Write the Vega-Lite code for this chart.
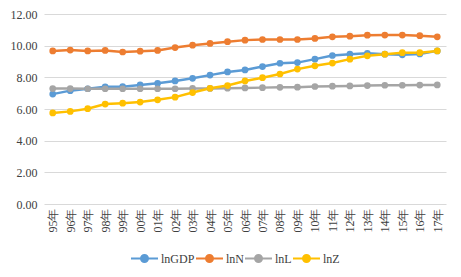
{
  "$schema": "https://vega.github.io/schema/vega-lite/v6.json",
  "width": 402,
  "height": 190,
  "autosize": {"type": "none"},
  "padding": {"left": 44, "top": 14, "right": 15, "bottom": 73},
  "background": "white",
  "config": {
    "font": "Times New Roman, Liberation Serif, serif",
    "view": {"stroke": null},
    "axis": {"labelFont": "Times New Roman, Liberation Serif, serif", "labelFontSize": 12, "labelColor": "#404040"},
    "legend": {"labelFont": "Times New Roman, Liberation Serif, serif", "labelFontSize": 12, "labelColor": "#404040"}
  },
  "data": {
    "values": [
      {"year": "95年", "s": "lnGDP", "v": 6.94}, {"year": "96年", "s": "lnGDP", "v": 7.16}, {"year": "97年", "s": "lnGDP", "v": 7.28}, {"year": "98年", "s": "lnGDP", "v": 7.40}, {"year": "99年", "s": "lnGDP", "v": 7.41}, {"year": "00年", "s": "lnGDP", "v": 7.52}, {"year": "01年", "s": "lnGDP", "v": 7.62}, {"year": "02年", "s": "lnGDP", "v": 7.77}, {"year": "03年", "s": "lnGDP", "v": 7.94}, {"year": "04年", "s": "lnGDP", "v": 8.14}, {"year": "05年", "s": "lnGDP", "v": 8.34}, {"year": "06年", "s": "lnGDP", "v": 8.47}, {"year": "07年", "s": "lnGDP", "v": 8.68}, {"year": "08年", "s": "lnGDP", "v": 8.89}, {"year": "09年", "s": "lnGDP", "v": 8.93}, {"year": "10年", "s": "lnGDP", "v": 9.15}, {"year": "11年", "s": "lnGDP", "v": 9.38}, {"year": "12年", "s": "lnGDP", "v": 9.46}, {"year": "13年", "s": "lnGDP", "v": 9.52}, {"year": "14年", "s": "lnGDP", "v": 9.46}, {"year": "15年", "s": "lnGDP", "v": 9.42}, {"year": "16年", "s": "lnGDP", "v": 9.48}, {"year": "17年", "s": "lnGDP", "v": 9.67},
      {"year": "95年", "s": "lnN", "v": 9.67}, {"year": "96年", "s": "lnN", "v": 9.72}, {"year": "97年", "s": "lnN", "v": 9.67}, {"year": "98年", "s": "lnN", "v": 9.70}, {"year": "99年", "s": "lnN", "v": 9.60}, {"year": "00年", "s": "lnN", "v": 9.65}, {"year": "01年", "s": "lnN", "v": 9.70}, {"year": "02年", "s": "lnN", "v": 9.88}, {"year": "03年", "s": "lnN", "v": 10.03}, {"year": "04年", "s": "lnN", "v": 10.14}, {"year": "05年", "s": "lnN", "v": 10.25}, {"year": "06年", "s": "lnN", "v": 10.35}, {"year": "07年", "s": "lnN", "v": 10.39}, {"year": "08年", "s": "lnN", "v": 10.39}, {"year": "09年", "s": "lnN", "v": 10.39}, {"year": "10年", "s": "lnN", "v": 10.46}, {"year": "11年", "s": "lnN", "v": 10.56}, {"year": "12年", "s": "lnN", "v": 10.60}, {"year": "13年", "s": "lnN", "v": 10.66}, {"year": "14年", "s": "lnN", "v": 10.67}, {"year": "15年", "s": "lnN", "v": 10.67}, {"year": "16年", "s": "lnN", "v": 10.63}, {"year": "17年", "s": "lnN", "v": 10.56},
      {"year": "95年", "s": "lnL", "v": 7.29}, {"year": "96年", "s": "lnL", "v": 7.29}, {"year": "97年", "s": "lnL", "v": 7.28}, {"year": "98年", "s": "lnL", "v": 7.28}, {"year": "99年", "s": "lnL", "v": 7.28}, {"year": "00年", "s": "lnL", "v": 7.28}, {"year": "01年", "s": "lnL", "v": 7.28}, {"year": "02年", "s": "lnL", "v": 7.28}, {"year": "03年", "s": "lnL", "v": 7.30}, {"year": "04年", "s": "lnL", "v": 7.30}, {"year": "05年", "s": "lnL", "v": 7.31}, {"year": "06年", "s": "lnL", "v": 7.33}, {"year": "07年", "s": "lnL", "v": 7.35}, {"year": "08年", "s": "lnL", "v": 7.37}, {"year": "09年", "s": "lnL", "v": 7.38}, {"year": "10年", "s": "lnL", "v": 7.42}, {"year": "11年", "s": "lnL", "v": 7.44}, {"year": "12年", "s": "lnL", "v": 7.46}, {"year": "13年", "s": "lnL", "v": 7.48}, {"year": "14年", "s": "lnL", "v": 7.50}, {"year": "15年", "s": "lnL", "v": 7.50}, {"year": "16年", "s": "lnL", "v": 7.51}, {"year": "17年", "s": "lnL", "v": 7.52},
      {"year": "95年", "s": "lnZ", "v": 5.75}, {"year": "96年", "s": "lnZ", "v": 5.85}, {"year": "97年", "s": "lnZ", "v": 6.02}, {"year": "98年", "s": "lnZ", "v": 6.31}, {"year": "99年", "s": "lnZ", "v": 6.37}, {"year": "00年", "s": "lnZ", "v": 6.44}, {"year": "01年", "s": "lnZ", "v": 6.58}, {"year": "02年", "s": "lnZ", "v": 6.75}, {"year": "03年", "s": "lnZ", "v": 7.04}, {"year": "04年", "s": "lnZ", "v": 7.31}, {"year": "05年", "s": "lnZ", "v": 7.48}, {"year": "06年", "s": "lnZ", "v": 7.77}, {"year": "07年", "s": "lnZ", "v": 7.98}, {"year": "08年", "s": "lnZ", "v": 8.21}, {"year": "09年", "s": "lnZ", "v": 8.52}, {"year": "10年", "s": "lnZ", "v": 8.73}, {"year": "11年", "s": "lnZ", "v": 8.90}, {"year": "12年", "s": "lnZ", "v": 9.15}, {"year": "13年", "s": "lnZ", "v": 9.36}, {"year": "14年", "s": "lnZ", "v": 9.46}, {"year": "15年", "s": "lnZ", "v": 9.56}, {"year": "16年", "s": "lnZ", "v": 9.56}, {"year": "17年", "s": "lnZ", "v": 9.67}
    ]
  },
  "mark": {"type": "line", "strokeWidth": 2.5, "point": {"filled": true, "size": 45, "opacity": 1}},
  "encoding": {
    "x": {
      "field": "year", "type": "ordinal", "sort": null,
      "scale": {"type": "point", "padding": 0.5},
      "axis": {"title": null, "labelAngle": -90, "ticks": false, "domain": false, "grid": false, "labelPadding": 4}
    },
    "y": {
      "field": "v", "type": "quantitative",
      "scale": {"domain": [0, 12], "nice": false, "zero": true},
      "axis": {"title": null, "values": [0, 2, 4, 6, 8, 10, 12], "format": ".2f", "ticks": false, "domain": false, "gridColor": "#D9D9D9", "gridWidth": 1, "labelPadding": 7}
    },
    "color": {
      "field": "s", "type": "nominal", "sort": ["lnGDP", "lnN", "lnL", "lnZ"],
      "scale": {"domain": ["lnGDP", "lnN", "lnL", "lnZ"], "range": ["#5B9BD5", "#ED7D31", "#A5A5A5", "#FFC000"]},
      "legend": {
        "title": null, "orient": "none", "direction": "horizontal", "legendX": 86, "legendY": 230,
        "gridAlign": "none",
        "symbolType": "M-1,0L1,0M-0.26,0A0.26,0.26,0,1,1,0.26,0A0.26,0.26,0,1,1,-0.26,0Z",
        "symbolSize": 729, "symbolStrokeWidth": 2, "labelOffset": 2, "columnPadding": -3,
        "encode": {"symbols": {"update": {"fill": {"scale": "color", "field": "value"}, "stroke": {"scale": "color", "field": "value"}, "opacity": {"value": 1}}}}
      }
    }
  }
}
